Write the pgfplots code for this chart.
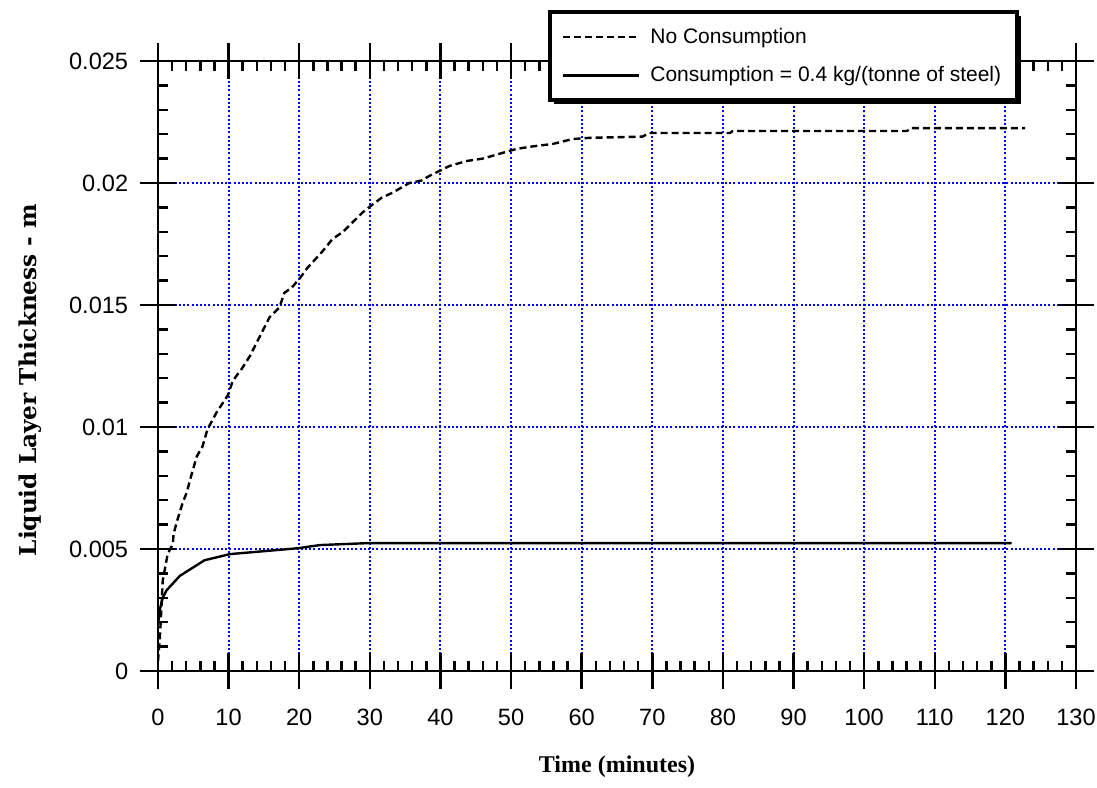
\documentclass[border=0pt]{standalone}
\usepackage{fontspec}
\setmainfont{Liberation Sans}
\newfontfamily\timesfont{Liberation Serif}
\newfontfamily\widefont{DejaVu Serif}
\usepackage{pgfplots}
\pgfplotsset{compat=1.18}
\usetikzlibrary{shadows}
\makeatletter
\tikzset{noshadow/.code={\let\tikz@preactions\pgfutil@empty}}
\makeatother

\begin{document}
\begin{tikzpicture}
\begin{axis}[
  scale only axis, width=459pt, height=305pt,
  xmin=0, xmax=130, ymin=0, ymax=0.025,
  xtick={0,10,...,130},
  ytick={0,0.005,0.01,0.015,0.02,0.025},
  yticklabels={0,0.005,0.01,0.015,0.02,0.025},
  scaled y ticks=false,
  /pgf/number format/assume math mode=true,
  minor x tick num=4, minor y tick num=4,
  tick pos=both, tick align=inside,
  major tick length=9pt, minor tick length=5pt,
  extra x ticks={0,10,...,130}, extra x tick labels={},
  extra y ticks={0,0.005,0.01,0.015,0.02,0.025}, extra y tick labels={},
  extra tick style={tick align=outside, grid=none, major tick length=9pt},
  xmajorgrids, ymajorgrids,
  major grid style={blue, line width=1pt, dash pattern=on 1pt off 1.1pt},
  axis line style={line width=1.3pt},
  tick style={black, line width=1.25pt},
  ticklabel style={font=\fontsize{11.8}{14}\selectfont},
  xticklabel style={yshift=-15.4pt},
  yticklabel style={xshift=-11.4pt},
  xlabel={Time (minutes)},
  ylabel={Liquid Layer Thickness - m},
  xlabel style={font=\fontsize{12}{14}\timesfont\bfseries, at={(axis description cs:0.5,-0.157)}, anchor=center},
  ylabel style={font=\fontsize{11.6}{13}\widefont\bfseries, at={(axis description cs:-0.139,0.477)}, anchor=center},
  legend image code/.code={\draw[noshadow,#1] (0pt,0pt) -- (38pt,0pt);},
  legend cell align=left,
  legend style={at={(0.4248,1.0836)}, anchor=north west, draw=black, line width=2pt, fill=white,
    drop shadow={shadow xshift=2pt, shadow yshift=-2pt, opacity=1, fill=black},
    font=\fontsize{10.5}{13}\selectfont, inner xsep=6pt, inner ysep=6pt, row sep=6pt, column sep=3pt},
]
\addplot[black, line width=1.2pt, dash pattern=on 3.5pt off 2pt] coordinates {
(0,0.0004) (0.25,0.0013) (0.4,0.0021) (0.67,0.0037) (1.37,0.0048) (2.1,0.0052)
(2.2,0.0056) (2.65,0.0061) (3.5,0.0069) (4.05,0.0073) (4.8,0.0081) (5.5,0.0088)
(6.3,0.0092) (7.0,0.0099) (8.3,0.0106) (9.9,0.0113) (10.6,0.0119) (11.9,0.0124)
(13.0,0.0129) (14.4,0.0137) (15.8,0.0145) (17.2,0.0149) (17.9,0.0155) (18.9,0.0157)
(20.1,0.0161) (21.1,0.0165) (23.3,0.0172) (24.7,0.0177) (26.2,0.0180) (27.6,0.0184)
(29.0,0.0188) (30.3,0.0191) (31.7,0.0194) (33.2,0.0196) (35.6,0.0200) (37.3,0.0201)
(38.5,0.0203) (39.9,0.0205) (41.3,0.0207) (43.7,0.0209) (46.0,0.0210) (48.4,0.0212)
(50.8,0.0214) (53.1,0.0215) (55.9,0.0216) (58.7,0.0218) (61.1,0.02185) (68.6,0.0219)
(69.6,0.02205) (81.0,0.02205) (81.4,0.02213) (106.1,0.02213) (106.5,0.02225) (122.8,0.02225)
};
\addlegendentry{No Consumption}
\addplot[black, line width=1.2pt] coordinates {
(0,0.0019) (0.25,0.0025) (0.67,0.0030) (1.2,0.0033) (3.1,0.0039) (6.6,0.00454)
(10.2,0.00479) (19.8,0.00503) (22.9,0.00516) (29.7,0.00524) (120.9,0.00524)
};
\addlegendentry{Consumption = 0.4 kg/(tonne of steel)}
\end{axis}
\pgfresetboundingbox
\path[use as bounding box] ([shift={(-79pt,-58.5pt)}]current axis.south west) rectangle ([shift={(10.5pt,30.5pt)}]current axis.north east);
\end{tikzpicture}
\end{document}
